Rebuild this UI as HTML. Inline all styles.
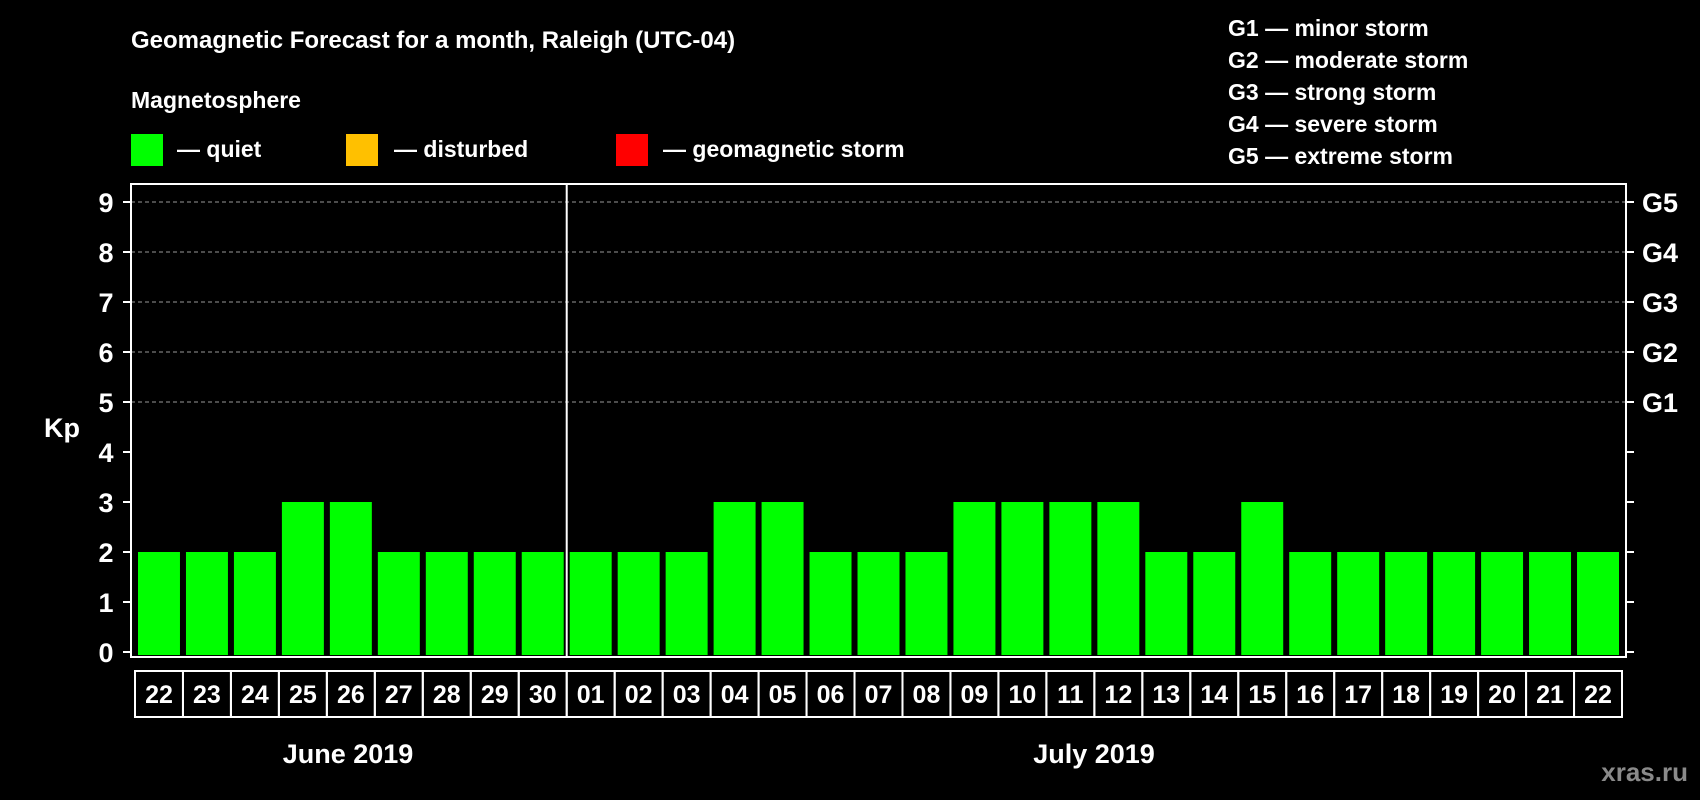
<!DOCTYPE html>
<html><head><meta charset="utf-8"><style>
html,body{margin:0;padding:0;background:#000;}
svg{display:block;font-family:"Liberation Sans",Arial,sans-serif;font-weight:bold;}
</style></head><body>
<svg id="chart" width="1700" height="800" viewBox="0 0 1700 800">
<text x="131" y="48" fill="#fff" font-size="24">Geomagnetic Forecast for a month, Raleigh (UTC-04)</text>
<text x="131" y="108" fill="#fff" font-size="23">Magnetosphere</text>
<g><rect x="131" y="134" width="32" height="32" fill="#00ff00"/><text x="177" y="157" fill="#fff" font-size="23">— quiet</text></g>
<g><rect x="346" y="134" width="32" height="32" fill="#ffc000"/><text x="394" y="157" fill="#fff" font-size="23">— disturbed</text></g>
<g><rect x="616" y="134" width="32" height="32" fill="#ff0000"/><text x="663" y="157" fill="#fff" font-size="23">— geomagnetic storm</text></g>
<g fill="#fff" font-size="23">
<text x="1228" y="36">G1 — minor storm</text>
<text x="1228" y="68">G2 — moderate storm</text>
<text x="1228" y="100">G3 — strong storm</text>
<text x="1228" y="132">G4 — severe storm</text>
<text x="1228" y="164">G5 — extreme storm</text>
</g>
<text x="62" y="437" fill="#fff" font-size="27" text-anchor="middle">Kp</text>
<g id="grid"></g><g id="bars"></g><g id="axes"></g><g id="dates"></g>
<text x="348" y="763" fill="#fff" font-size="27" text-anchor="middle">June 2019</text>
<text x="1094" y="763" fill="#fff" font-size="27" text-anchor="middle">July 2019</text>
<text x="1688" y="781" fill="#8a8a8a" font-size="26" text-anchor="end">xras.ru</text>
</svg>
<script>
const days = ["22","23","24","25","26","27","28","29","30","01","02","03","04","05","06","07","08","09","10","11","12","13","14","15","16","17","18","19","20","21","22"];
const kp = [2,2,2,3,3,2,2,2,2,2,2,2,3,3,2,2,2,3,3,3,3,2,2,3,2,2,2,2,2,2,2];
const yTicks = [0,1,2,3,4,5,6,7,8,9];
const gLabels = ["G1","G2","G3","G4","G5"];
const gLevels = [5,6,7,8,9];
const NS="http://www.w3.org/2000/svg";
const L=131,R=1626,T=184,B=657;
const y0=652, unit=50;
const yS=v=>y0-v*unit;
const x0=135,pitch=(1622-135)/days.length;
const xS=i=>x0+pitch*i;
function mk(t,a,p){const e=document.createElementNS(NS,t);for(const k in a)e.setAttribute(k,a[k]);p.appendChild(e);return e;}
const grid=document.getElementById('grid'),bars=document.getElementById('bars'),axes=document.getElementById('axes'),dates=document.getElementById('dates');
yTicks.forEach(v=>{
  if(v>=5){const g=mk('line',{x1:L,x2:R,y1:yS(v),y2:yS(v),stroke:'#999','stroke-dasharray':'4 3','stroke-width':1},grid);
  
  }
  const t=mk('line',{x1:L-8,x2:L,y1:yS(v),y2:yS(v),stroke:'#fff','stroke-width':2},axes);
  
  
  const t2=mk('line',{x1:R,x2:R+8,y1:yS(v),y2:yS(v),stroke:'#fff','stroke-width':2},axes);
  
  
  const lb=mk('text',{x:106,y:yS(v)+10,fill:'#fff','font-size':27,'text-anchor':'middle'},axes);
  lb.textContent=v;
  
  
});
gLabels.forEach((g,i)=>{
  const lb=mk('text',{x:1642,y:yS(gLevels[i])+10,fill:'#fff','font-size':27},axes);
  lb.textContent=g;
  
  
});
kp.forEach((v,i)=>{
  const col=v>=5?'#ff0000':(v>=4?'#ffc000':'#00ff00');
  const b=mk('rect',{x:xS(i)+3,y:yS(v),width:pitch-6,height:B-2-yS(v),fill:col},bars);
  
  
});
const fr=mk('rect',{x:L,y:T,width:R-L,height:B-T,fill:'none',stroke:'#fff','stroke-width':2},axes);


const dv=mk('line',{x1:xS(9),x2:xS(9),y1:T,y2:B,stroke:'#fff','stroke-width':2},axes);


days.forEach((d,i)=>{
  const c=mk('rect',{x:xS(i),y:671,width:pitch,height:46,fill:'none',stroke:'#fff','stroke-width':2},dates);
  
  
  const t=mk('text',{x:xS(i)+pitch/2,y:703,fill:'#fff','font-size':25,'text-anchor':'middle'},dates);
  t.textContent=d;
  
  
});
</script>
</body></html>
